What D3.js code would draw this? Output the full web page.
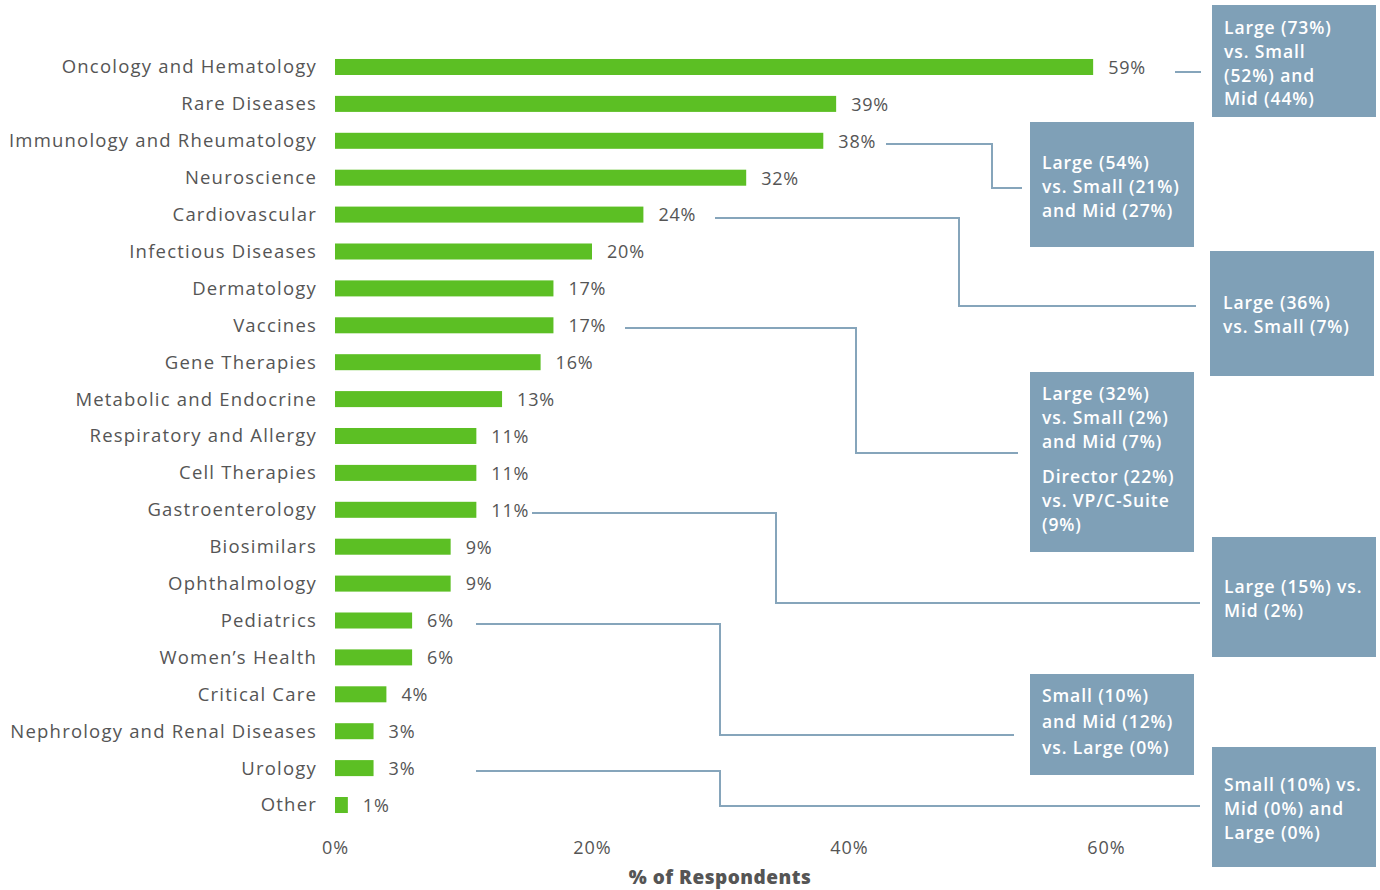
<!DOCTYPE html>
<html>
<head>
<meta charset="utf-8">
<script src="https://cdn.jsdelivr.net/npm/d3@7/dist/d3.min.js"></script>
<style>
  html, body { margin: 0; padding: 0; background: #ffffff; }
  svg { display: block; }
  text { font-family: "Open Sans", "Noto Sans", sans-serif; }
</style>
</head>
<body>
<svg id="chart" width="1380" height="890"></svg>
<script>
// Therapeutic areas and share of respondents (%)
const categories = [
  "Oncology and Hematology", "Rare Diseases", "Immunology and Rheumatology",
  "Neuroscience", "Cardiovascular", "Infectious Diseases", "Dermatology",
  "Vaccines", "Gene Therapies", "Metabolic and Endocrine",
  "Respiratory and Allergy", "Cell Therapies", "Gastroenterology",
  "Biosimilars", "Ophthalmology", "Pediatrics", "Women\u2019s Health",
  "Critical Care", "Nephrology and Renal Diseases", "Urology", "Other"
];
const values = [59, 39, 38, 32, 24, 20, 17, 17, 16, 13, 11, 11, 11, 9, 9, 6, 6, 4, 3, 3, 1];
const xTicks = [0, 20, 40, 60];
const xTitle = "% of Respondents";

// Call-out notes: which category they refer to, and their text paragraphs
const noteCategories = [
  "Oncology and Hematology", "Immunology and Rheumatology", "Cardiovascular",
  "Vaccines", "Gastroenterology", "Pediatrics", "Urology"
];
const noteTexts = [
  [["Large (73%)", "vs. Small", "(52%) and", "Mid (44%)"]],
  [["Large (54%)", "vs. Small (21%)", "and Mid (27%)"]],
  [["Large (36%)", "vs. Small (7%)"]],
  [["Large (32%)", "vs. Small (2%)", "and Mid (7%)"], ["Director (22%)", "vs. VP/C-Suite", "(9%)"]],
  [["Large (15%) vs.", "Mid (2%)"]],
  [["Small (10%)", "and Mid (12%)", "vs. Large (0%)"]],
  [["Small (10%) vs.", "Mid (0%) and", "Large (0%)"]]
];

// Layout for the call-out boxes and their elbow connectors (pixels)
const noteLayout = [
  { box: [1212, 5, 164, 112],  tx: 1224, ty: 28,  lh: 23.7, x0: 1175, xm: null, y1: 72,  x1: 1201 },
  { box: [1030, 122, 164, 125], tx: 1042, ty: 163, lh: 24,  x0: 886,  xm: 992,  y1: 188, x1: 1022 },
  { box: [1210, 251, 164, 125], tx: 1223, ty: 303, lh: 24,  x0: 715,  xm: 959,  y1: 306, x1: 1196 },
  { box: [1030, 372, 164, 180], tx: 1042, ty: 394, lh: 23.7, x0: 625, xm: 856,  y1: 453, x1: 1018, gap: 12 },
  { box: [1212, 537, 164, 120], tx: 1224, ty: 587, lh: 24,  x0: 532,  xm: 776,  y1: 603, x1: 1200 },
  { box: [1030, 674, 164, 101], tx: 1042, ty: 696, lh: 26,  x0: 476,  xm: 720,  y1: 735, x1: 1014 },
  { box: [1212, 747, 164, 120], tx: 1224, ty: 785, lh: 23.7, x0: 476, xm: 720,  y1: 806, x1: 1200 }
];

const GREEN = "#5cbf24";
const TEXT = "#555555";
const NOTE = "#7fa0b7";

const svg = d3.select("#chart");

const x = d3.scaleLinear().domain([0, 60]).range([335, 1106]);
const y = d3.scaleBand()
  .domain(categories)
  .range([38.1, 833.9])
  .padding(0.566);

// bars
svg.append("g").selectAll("rect")
  .data(values)
  .join("rect")
  .attr("x", x(0))
  .attr("y", (d, i) => y(categories[i]))
  .attr("width", d => x(d) - x(0))
  .attr("height", y.bandwidth())
  .attr("fill", GREEN);

// category labels
svg.append("g").selectAll("text")
  .data(categories)
  .join("text")
  .attr("x", 317)
  .attr("y", d => y(d) + y.bandwidth() / 2)
  .attr("dy", "0.35em")
  .attr("text-anchor", "end")
  .attr("fill", TEXT)
  .style("font-size", "18.5px")
  .style("letter-spacing", "1.2px")
  .text(d => d);

// value labels
svg.append("g").selectAll("text")
  .data(values)
  .join("text")
  .attr("x", d => x(d) + 15)
  .attr("y", (d, i) => y(categories[i]) + y.bandwidth() / 2)
  .attr("dy", "0.38em")
  .attr("fill", TEXT)
  .style("font-size", "18px")
  .style("letter-spacing", "0.8px")
  .text(d => d + "%");

// x axis (labels only)
const xAxis = svg.append("g")
  .attr("transform", "translate(0,838)")
  .call(d3.axisBottom(x).tickValues(xTicks).tickFormat(d => d + "%").tickSize(0).tickPadding(0));
xAxis.select(".domain").remove();
xAxis.selectAll("text")
  .attr("dy", "0.35em")
  .attr("y", 10)
  .attr("fill", TEXT)
  .style("font-family", "\"Open Sans\", sans-serif")
  .style("font-size", "18px")
  .style("letter-spacing", "1px");

svg.append("text")
  .attr("x", 720)
  .attr("y", 877)
  .attr("dy", "0.35em")
  .attr("text-anchor", "middle")
  .attr("fill", TEXT)
  .style("font-size", "19px")
  .style("font-weight", "800")
  .style("letter-spacing", "0.5px")
  .text(xTitle);

// call-outs
const notes = svg.append("g");
noteLayout.forEach((L, i) => {
  const cy = y(noteCategories[i]) + y.bandwidth() / 2;
  const y0 = Math.round(cy + 3);
  let pts;
  if (L.xm === null) pts = [[L.x0, L.y1], [L.x1, L.y1]];
  else pts = [[L.x0, y0], [L.xm, y0], [L.xm, L.y1], [L.x1, L.y1]];
  notes.append("path")
    .attr("d", d3.line()(pts))
    .attr("fill", "none")
    .attr("stroke", "#86a5bb")
    .attr("stroke-width", 2);

  notes.append("rect")
    .attr("x", L.box[0]).attr("y", L.box[1])
    .attr("width", L.box[2]).attr("height", L.box[3])
    .attr("fill", NOTE);

  let yy = L.ty;
  noteTexts[i].forEach((para, pi) => {
    if (pi > 0) yy += L.gap || 0;
    para.forEach(line => {
      notes.append("text")
        .attr("x", L.tx)
        .attr("y", yy)
        .attr("dy", "0.35em")
        .attr("fill", "#ffffff")
        .style("font-size", "17.5px")
        .style("font-weight", "600")
        .style("letter-spacing", "0.9px")
        .text(line);
      yy += L.lh;
    });
  });
});
</script>
</body>
</html>
